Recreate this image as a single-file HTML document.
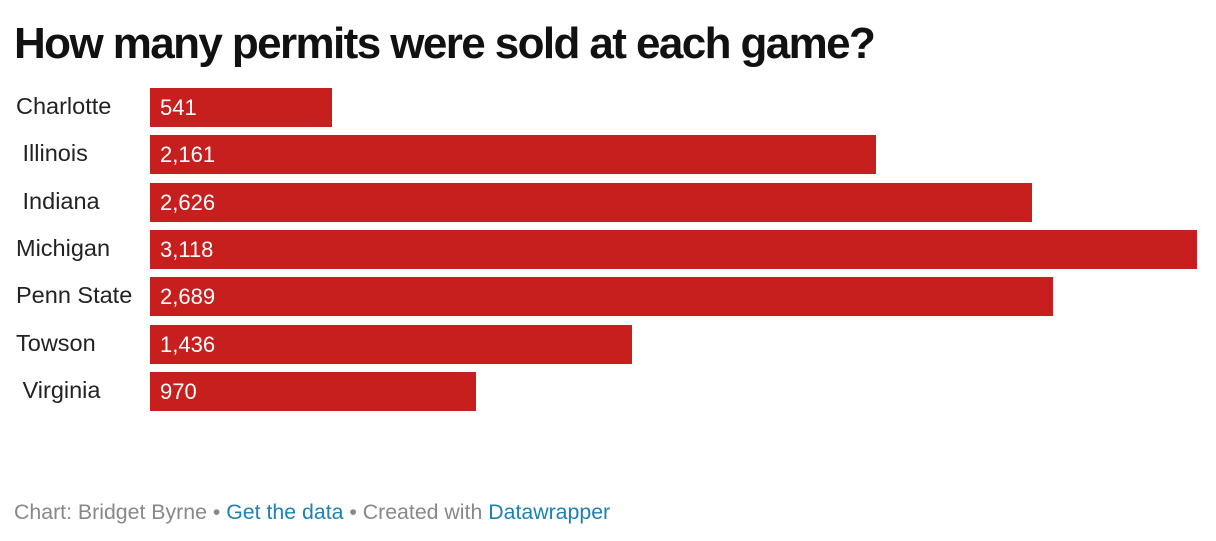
<!DOCTYPE html>
<html><head><meta charset="utf-8"><style>
body{margin:0;width:1216px;height:541px;background:#fff;font-family:"Liberation Sans",sans-serif;position:relative;overflow:hidden}
h1{position:absolute;left:14px;top:19px;margin:0;font-size:44px;font-weight:bold;color:#111;letter-spacing:-1.6px}
.lbl{position:absolute;font-size:23.5px;color:#222;white-space:pre}
.bar{position:absolute;background:#c71e1e}
.val{position:absolute;font-size:22px;color:#fff}
#foot{position:absolute;left:14px;top:500px;font-size:21.3px;color:#888}
#foot a{color:#1d81b2;text-decoration:none}
</style></head><body>
<h1>How many permits were sold at each game?</h1>
<div id="chart"></div>
<div id="foot">Chart: Bridget Byrne • <a>Get the data</a> • Created with <a>Datawrapper</a></div>
<script>
const categories=["Charlotte"," Illinois"," Indiana","Michigan","Penn State","Towson"," Virginia"];
const values=[541,2161,2626,3118,2689,1436,970];
const x0=150,maxW=1047,maxV=3118,y0=88,step=47.3,h=39;
const xs=v=>v/maxV*maxW;
const c=document.getElementById('chart');
categories.forEach((cat,i)=>{
 const y=y0+i*step;
 const l=document.createElement('div');l.className='lbl';l.textContent=cat;
 l.style.left='16px';l.style.top=(y+5)+'px';
 
 
 c.appendChild(l);
 const b=document.createElement('div');b.className='bar';
 b.style.left=x0+'px';b.style.top=y+'px';b.style.width=xs(values[i])+'px';b.style.height=h+'px';
 
 
 c.appendChild(b);
 const t=document.createElement('div');t.className='val';t.textContent=values[i].toLocaleString('en-US');
 t.style.left=(x0+10)+'px';t.style.top=(y+7)+'px';
 
 
 c.appendChild(t);
});
</script>
</body></html>
